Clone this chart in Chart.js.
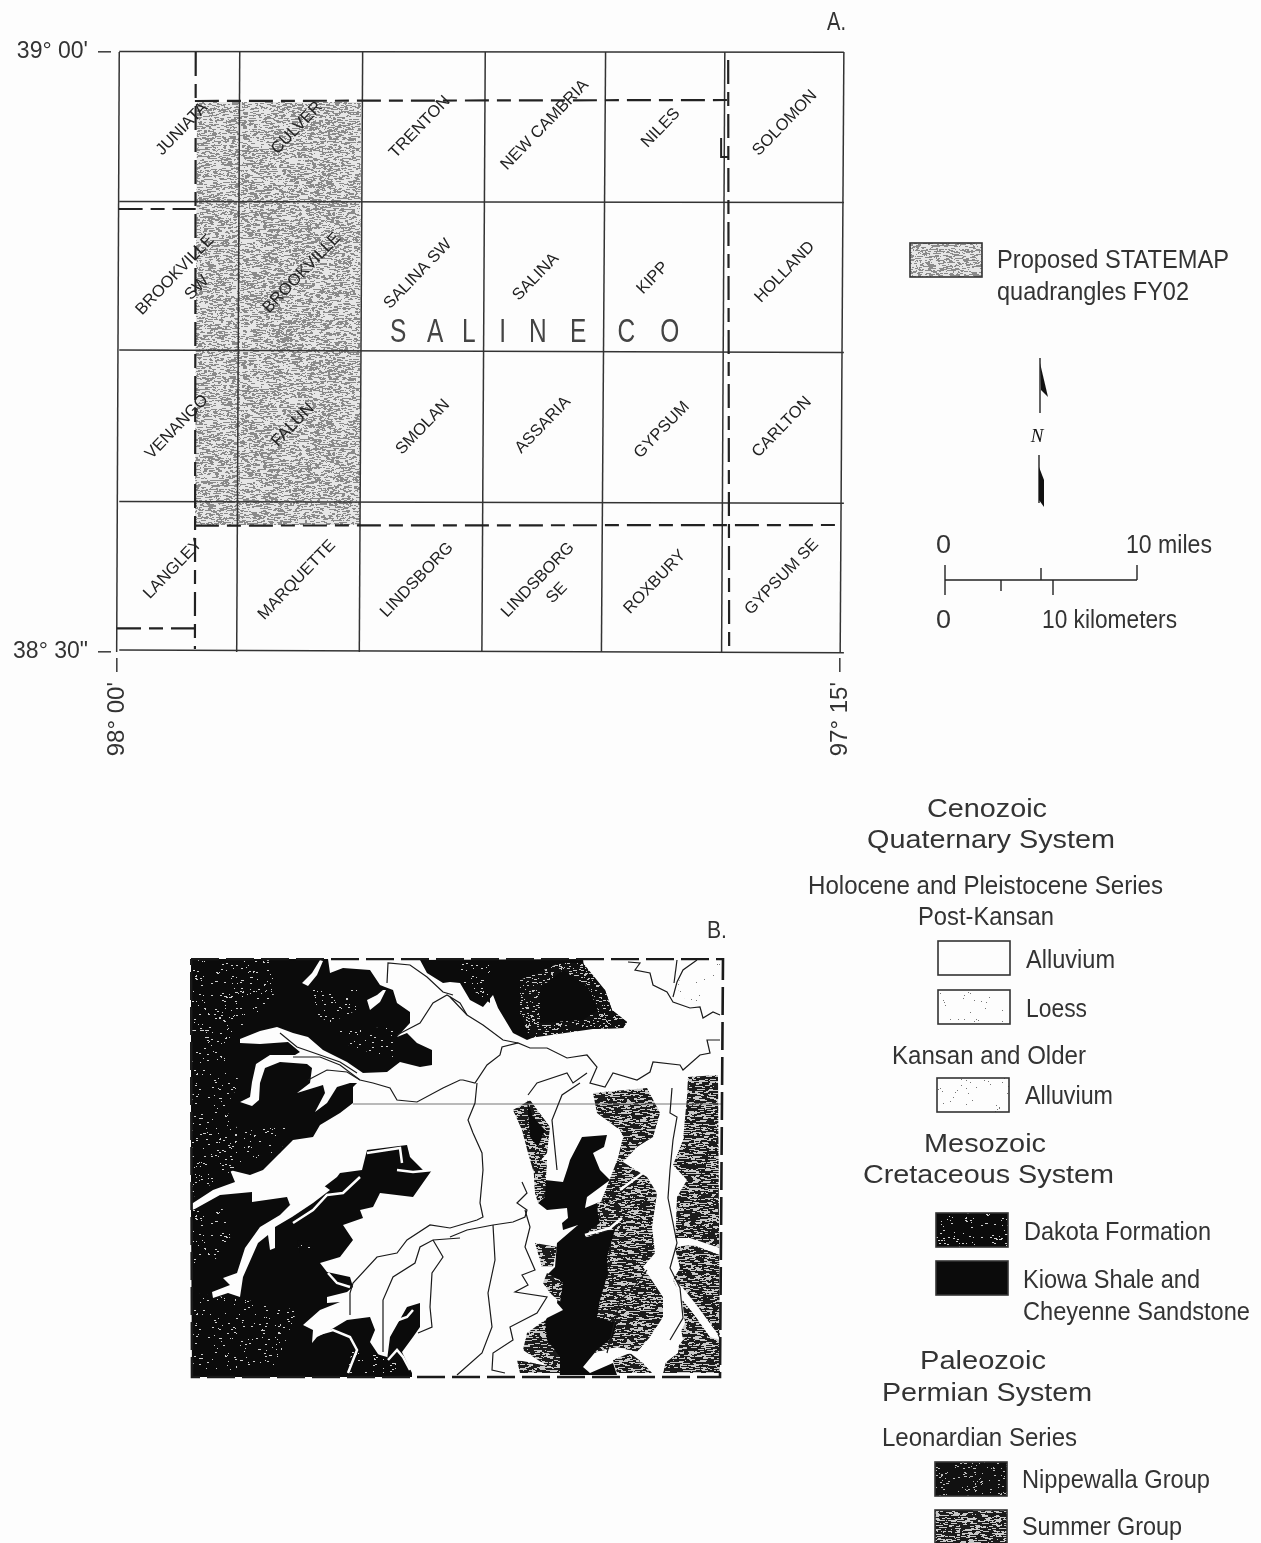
<!DOCTYPE html>
<html lang="en">
<head>
<meta charset="UTF-8">
<title>Saline County STATEMAP quadrangles</title>
<script src="https://cdn.jsdelivr.net/npm/chart.js"></script>
<style>
  html, body { margin: 0; background: #fdfdfd; }
  #wrap { position: relative; width: 1261px; height: 1543px; overflow: hidden; }
  canvas { position: absolute; filter: blur(0.4px); }
</style>
</head>
<body>
<div id="wrap">
  <canvas id="quadMap" width="1261" height="1543" style="left:0;top:0"></canvas>
  <canvas id="geoMap" width="540" height="425" style="left:190px;top:958px"></canvas>
</div>
<script>
// ---- panel A, in minutes east of 98 00' and minutes north of 38 30'
const lonTicks = [0, 45];
const lonTickLabels = ["98° 00'", "97° 15'"];
const latTicks = [0, 30];
const latTickLabels = ['38° 30"', "39° 00'"];

const meridiansTop = [0.14, 7.64, 15.29, 22.92, 30.41, 37.83, 45.24];
const meridiansBottom = [-0.02, 7.45, 15.08, 22.71, 30.15, 37.63, 45.01];
const parallelsWest = [30.02, 22.52, 15.10, 7.52, 0.10];
const parallelsEast = [29.99, 22.47, 14.97, 7.44, -0.04];

const studyArea = [[4.98, 27.5], [15.18, 27.5], [15.12, 6.35], [4.85, 6.35]];
const countyLines = [
  [[4.85, 27.55], [38.15, 27.6]],
  [[4.9, 30], [4.85, 0.15]],
  [[38.04, 29.6], [38.1, 0.1]],
  [[4.85, 6.32], [45.05, 6.35]],
  [[0.1, 22.15], [4.9, 22.15]],
  [[0, 1.18], [4.85, 1.18]]
];
const countyJog = [[37.6, 25.7], [37.6, 24.75], [38.05, 24.75]];

const quadNames = ['JUNIATA', 'CULVER', 'TRENTON', 'NEW CAMBRIA', 'NILES', 'SOLOMON',
  'BROOKVILLE', 'SW', 'BROOKVILLE', 'SALINA SW', 'SALINA', 'KIPP', 'HOLLAND',
  'VENANGO', 'FALUN', 'SMOLAN', 'ASSARIA', 'GYPSUM', 'CARLTON',
  'LANGLEY', 'MARQUETTE', 'LINDSBORG', 'LINDSBORG', 'SE', 'ROXBURY', 'GYPSUM SE'];
const quadLon = [4.04, 11.2, 18.85, 26.63, 33.85, 41.57,
  3.61, 4.98, 11.51, 18.73, 26.07, 33.35, 41.57,
  3.73, 10.95, 19.04, 26.51, 33.91, 41.38,
  3.48, 11.2, 18.67, 26.2, 27.38, 33.48, 41.38];
const quadLat = [26.15, 26.2, 26.25, 26.35, 26.2, 26.45,
  18.85, 18.2, 18.95, 18.9, 18.75, 18.7, 19.0,
  11.25, 11.35, 11.25, 11.35, 11.1, 11.25,
  4.15, 3.6, 3.6, 3.6, 2.95, 3.5, 3.75];

const countyLetters = ['S', 'A', 'L', 'I', 'N', 'E', 'C', 'O'];
const countyLetterLon = [17.5, 19.8, 21.9, 24.0, 26.2, 28.7, 31.7, 34.4];
const countyLetterLat = [15.5, 15.5, 15.5, 15.5, 15.5, 15.5, 15.5, 15.5];

// ---- panel B, map units from the north west corner of the frame
const frame = [[1, 1], [533, 1], [530, 419], [2, 419], [1, 1]];

const kiowaNorth = [[1,1],[138,1],[140,15],[153,10],[180,12],[190,27],[195,29],[203,32],[207,45],[220,54],[220,65],[207,79],[217,75],[227,85],[242,92],[242,107],[230,109],[210,104],[197,114],[172,115],[170,122],[163,129],[163,145],[150,155],[130,167],[123,179],[103,182],[90,195],[73,212],[60,217],[40,212],[45,224],[23,232],[3,245],[1,246]];
const kiowaNortheast = [[230,2],[393,1],[395,19],[415,32],[422,52],[437,64],[433,70],[403,71],[367,70],[337,82],[323,75],[308,50],[303,37],[293,49],[280,42],[270,25],[260,24],[253,25],[237,15]];
const kiowaSouth = [[1,252],[3,252],[30,237],[62,234],[62,244],[97,239],[100,247],[130,232],[147,219],[150,215],[172,212],[177,192],[217,187],[220,199],[233,212],[242,212],[223,239],[190,235],[183,249],[170,252],[173,260],[153,267],[163,282],[150,299],[130,305],[137,314],[160,319],[163,329],[157,334],[137,339],[137,345],[150,344],[130,352],[113,367],[123,372],[122,385],[127,379],[137,374],[157,362],[180,359],[185,372],[180,384],[190,399],[197,402],[200,379],[217,349],[230,345],[230,369],[223,379],[212,394],[222,415],[222,419],[2,419]];
const kiowaCentral = [[392,179],[417,177],[414,189],[403,195],[410,212],[420,222],[397,239],[395,250],[407,245],[417,242],[433,252],[427,265],[417,299],[418,315],[410,342],[407,359],[427,365],[423,379],[407,392],[393,409],[400,415],[423,405],[427,417],[370,417],[368,399],[343,382],[357,360],[373,352],[367,345],[370,322],[357,317],[365,309],[367,285],[388,267],[373,272],[372,265],[378,260],[377,250],[357,252],[348,245],[353,239],[355,222],[373,224],[378,209],[380,202]];
const kiowaSliver = [[337,142],[343,159],[355,172],[348,189],[340,179]];
const kiowaCore = [[373,12],[398,29],[408,52],[393,62],[350,65],[350,30]];

const dakotaPatches = [
  [[2,2],[85,2],[85,35],[65,60],[45,75],[30,90],[40,105],[50,125],[35,150],[50,175],[70,170],[100,165],[90,195],[55,205],[30,220],[2,240]],
  [[123,32],[167,32],[167,52],[140,65],[123,55]],
  [[147,72],[203,69],[203,99],[170,92],[147,82]],
  [[270,5],[300,5],[300,45],[273,25]],
  [[2,252],[30,245],[43,275],[23,305],[2,305]],
  [[2,335],[57,342],[107,352],[97,379],[87,409],[2,415]],
  [[157,415],[163,389],[197,399],[220,415]],
  [[107,282],[120,284],[120,295],[110,295]]
];
const nippewallaFringe = [[330,22],[370,5],[393,5],[415,32],[422,52],[437,64],[433,70],[403,71],[340,80],[330,55]];

const summerCentral = [[403,135],[457,130],[470,155],[463,179],[447,189],[433,204],[457,219],[467,235],[462,269],[465,295],[453,309],[473,339],[473,359],[460,379],[447,394],[427,389],[407,394],[395,400],[395,285],[428,200],[433,179],[430,172],[407,155]];
const summerEast = [[483,207],[493,182],[497,139],[498,119],[528,117],[530,415],[473,415],[475,405],[488,395],[490,375],[495,365],[492,340],[483,322],[490,310],[485,290],[487,239],[497,222]];
const summerPatches = [
  [[407,244],[433,245],[432,259],[423,272],[403,277],[395,280],[400,272],[410,265],[408,257]],
  [[427,415],[423,402],[440,395],[453,405],[462,415]],
  [[345,285],[367,289],[363,309],[352,309]],
  [[357,315],[373,325],[370,344],[360,335],[353,325]],
  [[337,375],[355,362],[357,382],[370,399],[370,415],[330,415],[327,402],[343,405],[357,408],[333,392]],
  [[343,202],[357,202],[355,239],[348,245],[345,235]],
  [[323,152],[340,142],[360,169],[357,195],[343,212],[338,195],[332,172]]
];
const loessPatch = [[493,12],[530,5],[527,50],[500,47],[487,30]];

const alluviumPatches = [
  [[50,81],[70,73],[87,69],[103,75],[118,79],[133,92],[157,104],[173,115],[178,125],[160,125],[147,129],[137,145],[125,154],[135,135],[133,127],[107,135],[120,125],[122,110],[117,106],[90,104],[75,110],[70,125],[69,142],[62,148],[50,144],[60,139],[62,124],[66,106],[80,97],[105,97],[110,94],[98,84],[70,86],[50,85]],
  [[133,227],[107,240],[90,257],[70,269],[55,290],[47,315],[33,320],[40,327],[22,334],[23,340],[38,335],[50,339],[53,319],[68,285],[78,277],[80,292],[85,290],[85,269],[102,259],[123,245],[140,232]],
  [[130,2],[122,15],[112,25],[118,28],[127,17],[133,3]],
  [[193,32],[187,37],[177,42],[180,52],[190,44],[196,32]],
  [[482,280],[500,280],[530,290],[530,297],[503,287],[483,289]],
  [[483,320],[493,330],[508,349],[527,375],[530,382],[520,379],[503,355],[490,339]],
  [[453,392],[467,387],[477,375],[490,365],[493,382],[480,399],[460,402]],
  [[447,404],[477,400],[473,415],[463,415],[460,405]]
];
const alluviumThreads = [
  [[103,265],[123,252],[137,237],[153,235],[170,219]],
  [[207,212],[223,214],[243,212]],
  [[177,195],[210,190],[212,205]],
  [[138,315],[147,325],[160,329]],
  [[125,377],[143,372],[160,379],[167,392],[158,415]],
  [[200,365],[217,359],[223,352]],
  [[198,402],[207,392],[213,399],[220,412]],
  [[430,232],[457,212],[473,207],[480,219],[487,215]],
  [[395,277],[420,270],[432,260]]
];
const rivers = [
  [[103,99],[130,99],[150,107],[170,122],[183,125],[200,130],[207,142],[227,144],[253,130],[270,122],[273,122],[285,125],[297,107],[310,97],[312,89],[328,85],[340,90],[357,90],[377,100],[397,97],[407,109],[400,125],[415,129],[423,115],[447,122],[460,114],[463,104],[490,107],[493,112],[510,97],[520,95],[517,82],[530,82]],
  [[260,39],[277,57],[293,67],[313,82],[328,85]],
  [[118,122],[137,112],[157,114],[170,122]],
  [[90,75],[107,89],[130,97],[150,104],[167,115]],
  [[207,77],[230,65],[243,45],[257,37],[270,45],[277,57]],
  [[197,25],[198,5],[220,7],[237,19],[253,34],[263,37]],
  [[438,4],[450,5],[445,12],[460,15],[463,27],[477,34],[483,44],[500,50],[510,49],[513,60],[523,54],[530,57]],
  [[507,2],[493,12],[487,24],[483,39]],
  [[487,2],[484,25]],
  [[338,137],[347,125],[377,115],[383,125],[397,115]],
  [[367,212],[362,162],[372,137],[390,125]],
  [[287,125],[285,145],[278,162],[283,175],[292,195],[293,212],[290,245],[293,259],[287,262],[260,270],[240,267],[217,282],[207,295],[187,299],[163,325],[160,335],[160,357]],
  [[260,279],[277,272],[303,267],[323,264],[335,259],[337,252],[327,245],[337,235],[332,224]],
  [[303,267],[305,302],[298,335],[302,369],[292,395],[267,417]],
  [[270,280],[243,282],[230,289],[225,305],[203,319],[193,342],[193,394]],
  [[243,282],[253,299],[242,315],[240,349],[242,369],[228,375]],
  [[335,252],[340,269],[335,289],[345,312],[332,317],[338,327],[325,334],[357,339],[347,355],[320,369],[323,382],[303,395],[302,412],[315,415]],
  [[417,395],[430,342],[442,332],[457,312]],
  [[482,130],[480,155],[487,159],[483,182],[480,212],[478,240],[487,285],[480,310],[490,330],[493,360],[480,382]]
];
const parallelLine = [[163,146],[533,146]];

// ---- sheet text: [text, left, baseline, size, width]
const sheetText = [
  ['A.', 827, 30, 25, 19], ['B.', 707, 938, 24, 20],
  ['Proposed STATEMAP', 997, 268, 26, 232], ['quadrangles FY02', 997, 300, 26, 192],
  ['0', 936, 553, 25, 15], ['10 miles', 1126, 553, 25, 86],
  ['0', 936, 628, 25, 15], ['10 kilometers', 1042, 628, 25, 135],
  ['Cenozoic', 927, 817, 26, 120], ['Quaternary System', 867, 848, 26, 248],
  ['Holocene and Pleistocene Series', 808, 894, 25, 355], ['Post-Kansan', 918, 925, 25, 136],
  ['Alluvium', 1026, 968, 25, 89], ['Loess', 1026, 1017, 25, 61],
  ['Kansan and Older', 892, 1064, 25, 194], ['Alluvium', 1025, 1104, 25, 88],
  ['Mesozoic', 924, 1152, 26, 122], ['Cretaceous System', 863, 1183, 26, 251],
  ['Dakota Formation', 1024, 1240, 25, 187], ['Kiowa Shale and', 1023, 1288, 25, 177],
  ['Cheyenne Sandstone', 1023, 1320, 25, 227],
  ['Paleozoic', 920, 1369, 26, 126], ['Permian System', 882, 1401, 26, 210],
  ['Leonardian Series', 882, 1446, 25, 195],
  ['Nippewalla Group', 1022, 1488, 25, 188], ['Summer Group', 1022, 1535, 25, 160]
];

const FONT = '"Liberation Sans", Arial, sans-serif';
const INK = '#333';

// scan texture tiles, a fixed little generator so every run looks the same
function tile(base, ink, drops, streak, seed) {
  const c = document.createElement('canvas');
  c.width = c.height = 240;
  const g = c.getContext('2d');
  g.fillStyle = base;
  g.fillRect(0, 0, 240, 240);
  g.fillStyle = ink;
  let s = seed;
  const next = n => {
    s = (s + 0x6D2B79F5) | 0;
    let t = Math.imul(s ^ (s >>> 15), 1 | s);
    t = (t + Math.imul(t ^ (t >>> 7), 61 | t)) ^ t;
    return ((t ^ (t >>> 14)) >>> 0) % n;
  };
  for (let i = 0; i < drops; i++) {
    g.fillRect(next(240), next(240), 1 + next(streak), 1);
  }
  return g.createPattern(c, 'repeat');
}

const proposedFill = tile('#e6e6e6', '#8a8a8a', 13000, 4, 11);
const dakotaFill = tile('#0b0b0b', '#cfcfcf', 1500, 2, 23);
const nippewallaFill = tile('#111', '#bbb', 2400, 2, 37);
const fringeFill = tile('#101010', '#c4c4c4', 5200, 3, 47);
const summerFill = tile('#1c1c1c', '#c8c8c8', 8000, 6, 41);
const loessFill = tile('#fdfdfd', '#777', 560, 1, 53);

const toXY = pts => pts.map(p => ({ x: p[0], y: p[1] }));
const lineSet = (pts, color, width, dash) => ({
  data: toXY(pts), showLine: true, pointRadius: 0, borderColor: color,
  borderWidth: width, borderDash: dash || [], fill: false, tension: 0
});
const areaSet = (pts, fillStyle) => ({
  data: toXY(pts), showLine: true, pointRadius: 0, borderWidth: 0,
  backgroundColor: fillStyle, fill: 'shape', tension: 0
});

// panel A layers, bottom first
const quadLayers = [areaSet(studyArea, proposedFill)];
meridiansTop.forEach((top, i) => {
  quadLayers.push(lineSet([[top, 30], [meridiansBottom[i], 0]], '#333', 1.5));
});
parallelsWest.forEach((west, i) => {
  quadLayers.push(lineSet([[meridiansTop[0], west], [meridiansTop[6], parallelsEast[i]]], '#333', 1.5));
});
countyLines.forEach(l => quadLayers.push(lineSet(l, '#222', 2.2, [24, 8, 14, 8])));
quadLayers.push(lineSet(countyJog, '#222', 2));

function swatch(ctx, x, y, fillStyle) {
  ctx.fillStyle = fillStyle;
  ctx.fillRect(x, y, 72, 34);
  ctx.strokeStyle = '#333';
  ctx.lineWidth = 1.6;
  ctx.strokeRect(x, y, 72, 34);
}

function fitText(ctx, text, x, y, size, width, weight) {
  ctx.save();
  ctx.font = (weight || '') + size + 'px ' + FONT;
  const w = ctx.measureText(text).width;
  ctx.translate(x, y);
  ctx.scale(width / w, 1);
  ctx.textAlign = 'left';
  ctx.textBaseline = 'alphabetic';
  ctx.fillStyle = INK;
  ctx.fillText(text, 0, 0);
  ctx.restore();
}

const sheetPlugin = {
  id: 'sheet',
  afterDraw(chart) {
    const ctx = chart.ctx;
    const sx = chart.scales.x, sy = chart.scales.y;
    // quadrangle names
    ctx.save();
    ctx.font = '16.5px ' + FONT;
    ctx.fillStyle = '#222';
    ctx.textAlign = 'center';
    ctx.textBaseline = 'middle';
    quadNames.forEach((name, i) => {
      ctx.save();
      ctx.translate(sx.getPixelForValue(quadLon[i]), sy.getPixelForValue(quadLat[i]));
      ctx.rotate(-46 * Math.PI / 180);
      ctx.fillText(name, 0, 0);
      ctx.restore();
    });
    ctx.restore();
    // county name, tall thin letters
    ctx.save();
    ctx.font = '34px ' + FONT;
    ctx.fillStyle = '#444';
    ctx.textAlign = 'center';
    ctx.textBaseline = 'alphabetic';
    countyLetters.forEach((l, i) => {
      ctx.save();
      ctx.translate(sx.getPixelForValue(countyLetterLon[i]), sy.getPixelForValue(countyLetterLat[i]));
      ctx.scale(0.72, 1);
      ctx.fillText(l, 0, 0);
      ctx.restore();
    });
    ctx.restore();

    sheetText.forEach(t => fitText(ctx, t[0], t[1], t[2], t[3], t[4]));

    // key boxes
    swatch(ctx, 910, 243, proposedFill);
    swatch(ctx, 938, 941, '#fdfdfd');
    swatch(ctx, 938, 990, loessFill);
    swatch(ctx, 937, 1078, loessFill);
    swatch(ctx, 936, 1213, dakotaFill);
    swatch(ctx, 936, 1261, '#0b0b0b');
    swatch(ctx, 935, 1462, nippewallaFill);
    swatch(ctx, 935, 1510, summerFill);

    // north arrow
    ctx.save();
    ctx.strokeStyle = '#222';
    ctx.fillStyle = '#111';
    ctx.lineWidth = 1.4;
    ctx.beginPath();
    ctx.moveTo(1040, 358); ctx.lineTo(1040, 413);
    ctx.moveTo(1039, 455); ctx.lineTo(1039, 503);
    ctx.stroke();
    ctx.beginPath();
    ctx.moveTo(1040, 363); ctx.lineTo(1048, 397); ctx.lineTo(1041, 390);
    ctx.closePath(); ctx.fill();
    ctx.beginPath();
    ctx.moveTo(1039, 467); ctx.lineTo(1044, 480); ctx.lineTo(1044, 507); ctx.lineTo(1039, 500);
    ctx.closePath(); ctx.fill();
    ctx.font = 'italic 19px "Liberation Serif", serif';
    ctx.textAlign = 'center';
    ctx.fillText('N', 1037, 442);
    // scale bar
    ctx.beginPath();
    ctx.moveTo(945, 580); ctx.lineTo(1137, 580);
    ctx.moveTo(945, 565); ctx.lineTo(945, 595);
    ctx.moveTo(1137, 565); ctx.lineTo(1137, 580);
    ctx.moveTo(1041, 568); ctx.lineTo(1041, 580);
    ctx.moveTo(1001, 580); ctx.lineTo(1001, 591);
    ctx.moveTo(1053, 580); ctx.lineTo(1053, 595);
    ctx.stroke();
    ctx.restore();
  }
};

new Chart(document.getElementById('quadMap'), {
  type: 'scatter',
  data: { datasets: quadLayers.slice().reverse() },
  plugins: [sheetPlugin],
  options: {
    responsive: false,
    animation: false,
    events: [],
    layout: { autoPadding: false, padding: { left: 0, top: 46, right: 415, bottom: 785 } },
    plugins: { legend: { display: false }, tooltip: { enabled: false } },
    scales: {
      x: {
        type: 'linear', min: -0.373, max: 45.373,
        afterBuildTicks: s => { s.ticks = lonTicks.map(v => ({ value: v })); },
        afterFit: s => { s.height = 100; },
        border: { display: false },
        grid: { drawOnChartArea: false, tickLength: 14, color: '#444', lineWidth: 1.6 },
        ticks: {
          autoSkip: false, minRotation: 90, maxRotation: 90, padding: 10,
          color: INK, font: { family: FONT, size: 24 },
          callback: (v, i) => lonTickLabels[i]
        }
      },
      y: {
        type: 'linear', min: -0.3, max: 30.3,
        afterBuildTicks: s => { s.ticks = latTicks.map(v => ({ value: v })); },
        afterFit: s => { s.width = 111; },
        border: { display: false },
        grid: { drawOnChartArea: false, tickLength: 13, color: '#444', lineWidth: 1.6 },
        ticks: {
          autoSkip: false, padding: 10,
          color: INK, font: { family: FONT, size: 23 },
          callback: (v, i) => latTickLabels[i]
        }
      }
    }
  }
});

// panel B layers, bottom first
const geoLayers = [];
geoLayers.push(areaSet(loessPatch, loessFill));
geoLayers.push(areaSet(summerCentral, summerFill));
geoLayers.push(areaSet(summerEast, summerFill));
[kiowaNorth, kiowaNortheast, kiowaSouth, kiowaCentral].forEach(p => geoLayers.push(areaSet(p, '#0b0b0b')));
dakotaPatches.forEach(p => geoLayers.push(areaSet(p, dakotaFill)));
geoLayers.push(areaSet(nippewallaFringe, fringeFill));
summerPatches.forEach(p => geoLayers.push(areaSet(p, summerFill)));
geoLayers.push(areaSet(kiowaSliver, '#0b0b0b'));
geoLayers.push(areaSet(kiowaCore, '#0b0b0b'));
alluviumPatches.forEach(p => geoLayers.push(areaSet(p, '#fdfdfd')));
alluviumThreads.forEach(p => geoLayers.push(lineSet(p, '#fdfdfd', 2.5)));
geoLayers.push(lineSet(parallelLine, '#777', 1.2));
rivers.forEach(p => geoLayers.push(lineSet(p, '#1a1a1a', 1.2)));
geoLayers.push(lineSet(frame, '#1a1a1a', 2.6, [28, 7]));

new Chart(document.getElementById('geoMap'), {
  type: 'scatter',
  data: { datasets: geoLayers.slice().reverse() },
  options: {
    responsive: false,
    animation: false,
    events: [],
    layout: { autoPadding: false, padding: 0 },
    plugins: { legend: { display: false }, tooltip: { enabled: false } },
    scales: {
      x: { type: 'linear', display: false, min: 0, max: 540 },
      y: { type: 'linear', display: false, min: 0, max: 425, reverse: true }
    }
  }
});
</script>
</body>
</html>
